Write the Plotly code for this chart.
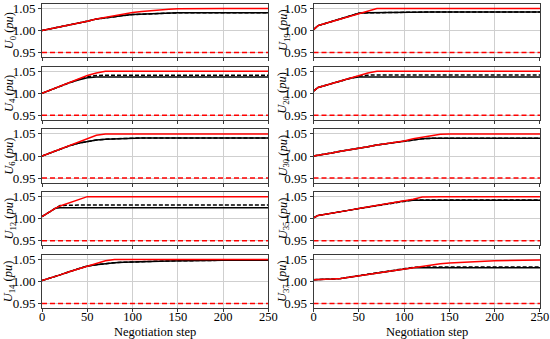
import plotly.graph_objects as go
from plotly.subplots import make_subplots

STEPS = [0, 5, 10, 15, 20, 30, 40, 50, 60, 70, 80, 90, 100, 110, 120, 130, 140, 150, 175, 200, 250]
X_TICKS = [0, 50, 100, 150, 200, 250]
Y_TICKS = [0.95, 1.00, 1.05]
Y_TICK_TEXT = ["0.95", "1.00", "1.05"]
LIMIT_LOW = 0.95
X_TITLE = "Negotiation step"

# bus labels (left column then right column, row by row)
BUSES = ["0", "19", "4", "20", "6", "30", "12", "35", "14", "37"]

# red solid series
RED_0  = [1.000, 1.002, 1.004, 1.006, 1.008, 1.012, 1.016, 1.021, 1.026, 1.030, 1.034, 1.038, 1.041, 1.043, 1.045, 1.047, 1.048, 1.049, 1.050, 1.050, 1.050]
RED_19 = [1.002, 1.011, 1.014, 1.017, 1.020, 1.026, 1.032, 1.039, 1.0445, 1.050, 1.050, 1.050, 1.050, 1.050, 1.050, 1.050, 1.050, 1.050, 1.050, 1.050, 1.050]
RED_4  = [1.000, 1.004, 1.008, 1.012, 1.016, 1.024, 1.032, 1.040, 1.046, 1.050, 1.050, 1.050, 1.050, 1.050, 1.050, 1.050, 1.050, 1.050, 1.050, 1.050, 1.050]
RED_20 = [1.005, 1.013, 1.016, 1.019, 1.022, 1.028, 1.034, 1.039, 1.046, 1.050, 1.050, 1.050, 1.050, 1.050, 1.050, 1.050, 1.050, 1.050, 1.050, 1.050, 1.050]
RED_6  = [1.000, 1.004, 1.008, 1.012, 1.0155, 1.023, 1.031, 1.039, 1.047, 1.050, 1.050, 1.050, 1.050, 1.050, 1.050, 1.050, 1.050, 1.050, 1.050, 1.050, 1.050]
RED_30 = [1.000, 1.0015, 1.003, 1.005, 1.007, 1.011, 1.014, 1.018, 1.021, 1.025, 1.028, 1.031, 1.034, 1.039, 1.043, 1.046, 1.049, 1.050, 1.050, 1.050, 1.050]
RED_12 = [1.005, 1.012, 1.019, 1.024, 1.029, 1.036, 1.043, 1.050, 1.050, 1.050, 1.050, 1.050, 1.050, 1.050, 1.050, 1.050, 1.050, 1.050, 1.050, 1.050, 1.050]
RED_35 = [1.002, 1.0075, 1.009, 1.011, 1.0125, 1.016, 1.0195, 1.023, 1.0265, 1.030, 1.033, 1.0365, 1.040, 1.044, 1.049, 1.050, 1.050, 1.050, 1.050, 1.050, 1.050]
RED_14 = [1.002, 1.005, 1.009, 1.012, 1.015, 1.022, 1.028, 1.035, 1.041, 1.047, 1.050, 1.050, 1.050, 1.050, 1.050, 1.050, 1.050, 1.050, 1.050, 1.050, 1.050]
RED_37 = [1.004, 1.004, 1.0045, 1.005, 1.0055, 1.007, 1.010, 1.013, 1.016, 1.020, 1.023, 1.026, 1.029, 1.032, 1.035, 1.038, 1.040, 1.042, 1.045, 1.047, 1.0485]

# black solid series
BLK_0  = [1.000, 1.002, 1.004, 1.006, 1.008, 1.012, 1.016, 1.021, 1.026, 1.029, 1.032, 1.034, 1.036, 1.037, 1.038, 1.039, 1.0395, 1.040, 1.040, 1.040, 1.040]
BLK_19 = [1.002, 1.011, 1.014, 1.017, 1.020, 1.026, 1.032, 1.039, 1.040, 1.0405, 1.041, 1.0412, 1.0415, 1.0418, 1.042, 1.042, 1.042, 1.042, 1.042, 1.042, 1.042]
BLK_4  = [1.000, 1.004, 1.008, 1.012, 1.016, 1.024, 1.030, 1.035, 1.037, 1.037, 1.037, 1.037, 1.037, 1.037, 1.037, 1.037, 1.037, 1.037, 1.037, 1.037, 1.037]
BLK_20 = [1.005, 1.013, 1.016, 1.019, 1.022, 1.028, 1.034, 1.037, 1.037, 1.037, 1.037, 1.037, 1.037, 1.037, 1.037, 1.037, 1.037, 1.037, 1.037, 1.037, 1.037]
BLK_6  = [1.000, 1.004, 1.008, 1.012, 1.0155, 1.023, 1.029, 1.033, 1.036, 1.038, 1.039, 1.040, 1.041, 1.041, 1.041, 1.041, 1.041, 1.041, 1.041, 1.041, 1.041]
BLK_30 = [1.000, 1.0015, 1.003, 1.005, 1.007, 1.011, 1.014, 1.018, 1.021, 1.025, 1.028, 1.031, 1.034, 1.037, 1.039, 1.040, 1.040, 1.040, 1.040, 1.040, 1.040]
BLK_12 = [1.005, 1.012, 1.019, 1.024, 1.025, 1.025, 1.025, 1.025, 1.025, 1.025, 1.025, 1.025, 1.025, 1.025, 1.025, 1.025, 1.025, 1.025, 1.025, 1.025, 1.025]
BLK_35 = [1.002, 1.0075, 1.009, 1.011, 1.0125, 1.016, 1.0195, 1.023, 1.0265, 1.030, 1.033, 1.0365, 1.040, 1.042, 1.042, 1.042, 1.042, 1.042, 1.042, 1.042, 1.042]
BLK_14 = [1.002, 1.005, 1.009, 1.012, 1.015, 1.022, 1.028, 1.035, 1.038, 1.041, 1.0425, 1.0435, 1.0445, 1.045, 1.0455, 1.046, 1.0465, 1.047, 1.0475, 1.048, 1.048]
BLK_37 = [1.004, 1.004, 1.0045, 1.005, 1.0055, 1.007, 1.010, 1.013, 1.016, 1.020, 1.023, 1.026, 1.029, 1.031, 1.031, 1.031, 1.031, 1.031, 1.031, 1.031, 1.031]

# black dashed series
DSH_0  = BLK_0
DSH_19 = BLK_19
DSH_4  = [1.000, 1.004, 1.008, 1.012, 1.016, 1.024, 1.031, 1.037, 1.040, 1.041, 1.041, 1.041, 1.041, 1.041, 1.041, 1.041, 1.041, 1.041, 1.041, 1.041, 1.041]
DSH_20 = [1.005, 1.013, 1.016, 1.019, 1.022, 1.028, 1.034, 1.039, 1.041, 1.0415, 1.0415, 1.0415, 1.0415, 1.0415, 1.0415, 1.0415, 1.0415, 1.0415, 1.0415, 1.0415, 1.0415]
DSH_6  = BLK_6
DSH_30 = BLK_30
DSH_12 = [1.005, 1.012, 1.019, 1.024, 1.030, 1.031, 1.031, 1.031, 1.031, 1.031, 1.031, 1.031, 1.031, 1.031, 1.031, 1.031, 1.031, 1.031, 1.031, 1.031, 1.031]
DSH_35 = [1.002, 1.0075, 1.009, 1.011, 1.0125, 1.016, 1.0195, 1.023, 1.0265, 1.030, 1.033, 1.0365, 1.040, 1.0425, 1.0425, 1.0425, 1.0425, 1.0425, 1.0425, 1.0425, 1.0425]
DSH_14 = BLK_14
DSH_37 = [1.004, 1.004, 1.0045, 1.005, 1.0055, 1.007, 1.010, 1.013, 1.016, 1.020, 1.023, 1.026, 1.029, 1.032, 1.033, 1.033, 1.033, 1.033, 1.033, 1.033, 1.033]

RED = [RED_0, RED_19, RED_4, RED_20, RED_6, RED_30, RED_12, RED_35, RED_14, RED_37]
BLK = [BLK_0, BLK_19, BLK_4, BLK_20, BLK_6, BLK_30, BLK_12, BLK_35, BLK_14, BLK_37]
DSH = [DSH_0, DSH_19, DSH_4, DSH_20, DSH_6, DSH_30, DSH_12, DSH_35, DSH_14, DSH_37]

FONT = "Liberation Serif"
AXC = "#3a3a3a"

fig = make_subplots(rows=5, cols=2, horizontal_spacing=0.0904, vertical_spacing=0.032)

annotations = []
for i, bus in enumerate(BUSES):
    r = i // 2 + 1
    c = i % 2 + 1
    fig.add_trace(go.Scatter(x=STEPS, y=BLK[i], mode="lines",
                             line=dict(color="black", width=1.5)), row=r, col=c)
    fig.add_trace(go.Scatter(x=STEPS, y=DSH[i], mode="lines",
                             line=dict(color="black", width=1.5, dash="4px,2px")), row=r, col=c)
    fig.add_trace(go.Scatter(x=STEPS, y=RED[i], mode="lines",
                             line=dict(color="red", width=1.5)), row=r, col=c)
    fig.add_trace(go.Scatter(x=[STEPS[0], STEPS[-1]], y=[LIMIT_LOW, LIMIT_LOW], mode="lines",
                             line=dict(color="red", width=1.5, dash="5px,3px")), row=r, col=c)
    fig.update_yaxes(row=r, col=c, range=[0.94, 1.06], tickvals=Y_TICKS, ticktext=Y_TICK_TEXT)
    fig.update_xaxes(row=r, col=c, range=[0, 250], tickvals=X_TICKS, showticklabels=(r == 5))
    k = i + 1
    suffix = "" if k == 1 else str(k)
    xd = f"x{suffix} domain"
    yd = f"y{suffix} domain"
    annotations.append(dict(text=f"<i>U</i><sub>{bus}</sub>&nbsp;(<i>pu</i>)", textangle=-90,
                            xref=xd, yref=yd, x=(-0.142 if c == 1 else -0.132), y=0.5,
                            xanchor="center", yanchor="middle", showarrow=False,
                            font=dict(family=FONT, size=12.5, color="black")))
    if r == 5:
        annotations.append(dict(text=X_TITLE, xref=xd, yref=yd, x=0.5, y=-0.46,
                                xanchor="center", yanchor="middle", showarrow=False,
                                font=dict(family=FONT, size=12.5, color="black")))

common = dict(showgrid=True, gridcolor="#cfcfcf", gridwidth=1, zeroline=False,
              showline=True, linecolor=AXC, linewidth=1, mirror=True,
              ticks="outside", ticklen=3, tickcolor=AXC, automargin=False)
fig.update_xaxes(ticklabelstandoff=-6, tickfont=dict(family=FONT, size=12.5, color="black"), **common)
fig.update_yaxes(tickfont=dict(family=FONT, size=13, color="black"), **common)

fig.update_layout(width=550, height=339, showlegend=False,
                  plot_bgcolor="white", paper_bgcolor="white",
                  margin=dict(l=42, r=10, t=4, b=31),
                  annotations=annotations)

fig.write_html("out.html", config={"displayModeBar": False},
               post_script="document.body.style.margin='0';")
